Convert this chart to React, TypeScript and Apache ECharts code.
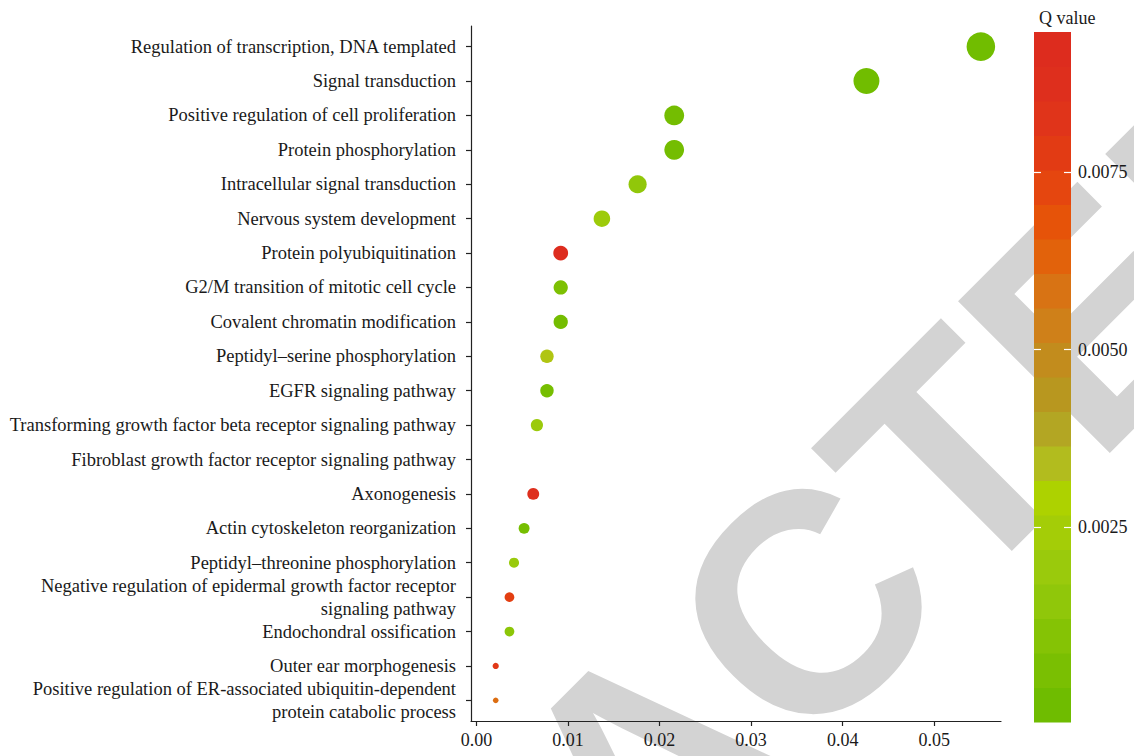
import React, { useEffect, useRef } from "react";
import * as echarts from "echarts";

const categories = [
  "Regulation of transcription, DNA templated",
  "Signal transduction",
  "Positive regulation of cell proliferation",
  "Protein phosphorylation",
  "Intracellular signal transduction",
  "Nervous system development",
  "Protein polyubiquitination",
  "G2/M transition of mitotic cell cycle",
  "Covalent chromatin modification",
  "Peptidyl–serine phosphorylation",
  "EGFR signaling pathway",
  "Transforming growth factor beta receptor signaling pathway",
  "Fibroblast growth factor receptor signaling pathway",
  "Axonogenesis",
  "Actin cytoskeleton reorganization",
  "Peptidyl–threonine phosphorylation",
  "Negative regulation of epidermal growth factor receptor\nsignaling pathway",
  "Endochondral ossification",
  "Outer ear morphogenesis",
  "Positive regulation of ER-associated ubiquitin-dependent\nprotein catabolic process",
];

const geneRatio = [
  0.0551, 0.0426, 0.0216, 0.0216, 0.0176, 0.0137, 0.0092, 0.0092, 0.0092, 0.0077,
  0.0077, 0.0066, null, 0.0062, 0.0052, 0.0041, 0.0036, 0.0036, 0.0021, 0.0021,
];

const qValue = [
  0.0001, 0.0001, 0.0002, 0.0002, 0.0015, 0.0021, 0.0092, 0.0006, 0.0002, 0.0032,
  0.0003, 0.002, null, 0.0087, 0.0003, 0.0019, 0.0076, 0.0013, 0.008, 0.006,
];

const geneCount = [104, 86, 50, 50, 42, 35, 28, 26, 26, 23, 23, 19, null, 18, 15, 13, 12, 12, 5, 4];

const xTicks = [0, 0.01, 0.02, 0.03, 0.04, 0.05];
const qTicks = [0.0025, 0.005, 0.0075];
const qLimits = [0, 0.00923];

// colour bar bins, bottom (low Q) to top (high Q)
const qBinColors = [
  "#6fbc00", "#7abf02", "#85c305", "#90c70a", "#9aca0c", "#a4cd07", "#add200",
  "#b2bc1e", "#b3a623", "#b8971f", "#c28c1d", "#cf8019", "#d87314", "#e2620b",
  "#e65309", "#e5460f", "#e23b14", "#e0341a", "#de2f1d", "#dd2c1e",
];

const FONT = '"Liberation Serif", "Times New Roman", serif';

export default function App() {
  const ref = useRef<HTMLDivElement>(null);

  useEffect(() => {
    if (!ref.current) return;
    const chart = echarts.init(ref.current, null, { renderer: "svg" });

    const nBins = qBinColors.length;
    const step = (qLimits[1] - qLimits[0]) / (nBins - 1);
    const bins = qBinColors.map((_, i) => [0, qLimits[0] + i * step, qLimits[0] + i * step]);

    const points = geneRatio
      .map((r, i) => (r == null ? null : [r, i, qValue[i], geneCount[i]]))
      .filter((p) => p !== null);

    const catIdx = categories.map((_, i) => i);

    const option: any = {
      animation: false,
      backgroundColor: "#ffffff",
      title: {
        text: "Q value",
        left: 1034,
        top: 4,
        textStyle: { fontFamily: FONT, fontSize: 18, fontWeight: "normal", color: "#1a1a1a" },
      },
      graphic: [
        {
          type: "text",
          x: 645,
          y: 765,
          rotation: Math.PI / 4,
          z: -100,
          silent: true,
          style: {
            text: "RETRACTED",
            fontSize: 312,
            fontWeight: "bold",
            fontFamily: '"Liberation Sans", Arial, sans-serif',
            fill: "#d3d3d3",
            align: "center",
            verticalAlign: "middle",
            textAlign: "center",
            textVerticalAlign: "middle",
          },
        },
      ],
      grid: [
        { left: 471, top: 26, width: 530, height: 695, containLabel: false },
        { left: 1034, top: 32, width: 37, height: 690, containLabel: false },
      ],
      visualMap: {
        show: false,
        type: "continuous",
        min: qLimits[0],
        max: qLimits[1],
        dimension: 2,
        seriesIndex: [0, 1],
        inRange: { color: qBinColors },
      },
      xAxis: [
        {
          type: "value",
          gridIndex: 0,
          min: -0.0006,
          max: 0.0573,
          axisLine: { show: true, onZero: false, lineStyle: { color: "#222", width: 1.2 } },
          axisTick: {
            show: true,
            length: 5,
            customValues: xTicks,
            lineStyle: { color: "#222", width: 1.2 },
          },
          axisLabel: {
            customValues: xTicks,
            formatter: (v: number) => v.toFixed(2),
            fontFamily: FONT,
            fontSize: 18,
            color: "#1a1a1a",
            margin: 10,
          },
          splitLine: { show: false },
        },
        { type: "value", gridIndex: 1, min: 0, max: 1, show: false },
      ],
      yAxis: [
        {
          type: "value",
          gridIndex: 0,
          min: -0.6,
          max: 19.6,
          inverse: true,
          axisLine: { show: true, onZero: false, lineStyle: { color: "#222", width: 1.2 } },
          axisTick: {
            show: true,
            length: 5,
            customValues: catIdx,
            lineStyle: { color: "#222", width: 1.2 },
          },
          axisLabel: {
            customValues: catIdx,
            formatter: (v: number) => categories[Math.round(v)],
            fontFamily: FONT,
            fontSize: 18.5,
            lineHeight: 23,
            align: "right",
            color: "#1a1a1a",
            margin: 15,
          },
          splitLine: { show: false },
        },
        {
          type: "value",
          gridIndex: 1,
          position: "right",
          min: qLimits[0] - step / 2,
          max: qLimits[1] + step / 2,
          z: 10,
          axisLine: { show: false, onZero: false },
          axisTick: {
            show: true,
            inside: true,
            length: 7,
            customValues: qTicks,
            lineStyle: { color: "#ffffff", width: 1.2 },
          },
          axisLabel: {
            customValues: qTicks,
            formatter: (v: number) => v.toFixed(4),
            fontFamily: FONT,
            fontSize: 18,
            color: "#1a1a1a",
            margin: 7,
          },
          splitLine: { show: false },
        },
        {
          type: "value",
          gridIndex: 1,
          position: "left",
          min: qLimits[0] - step / 2,
          max: qLimits[1] + step / 2,
          z: 10,
          axisLine: { show: false, onZero: false },
          axisTick: {
            show: true,
            inside: true,
            length: 7,
            customValues: qTicks,
            lineStyle: { color: "#ffffff", width: 1.2 },
          },
          axisLabel: { show: false },
          splitLine: { show: false },
        },
      ],
      series: [
        {
          type: "scatter",
          xAxisIndex: 0,
          yAxisIndex: 0,
          data: points,
          symbol: "circle",
          symbolSize: (val: number[]) => 2.8 * Math.sqrt(val[3]),
          itemStyle: { opacity: 1 },
          z: 5,
        },
        {
          type: "custom",
          xAxisIndex: 1,
          yAxisIndex: 1,
          z: 1,
          data: bins,
          renderItem: (params: any, api: any) => {
            const c = api.value(1);
            const p0 = api.coord([0, c + step / 2]);
            const p1 = api.coord([1, c - step / 2]);
            return {
              type: "rect",
              shape: { x: p0[0], y: p0[1], width: p1[0] - p0[0], height: p1[1] - p0[1] + 0.6 },
              style: { fill: api.visual("color") },
            };
          },
        },
      ],
    };

    chart.setOption(option);
    return () => chart.dispose();
  }, []);

  return (
    <div
      ref={ref}
      style={{ position: "fixed", left: 0, top: 0, width: 1134, height: 756, overflow: "hidden" }}
    />
  );
}
